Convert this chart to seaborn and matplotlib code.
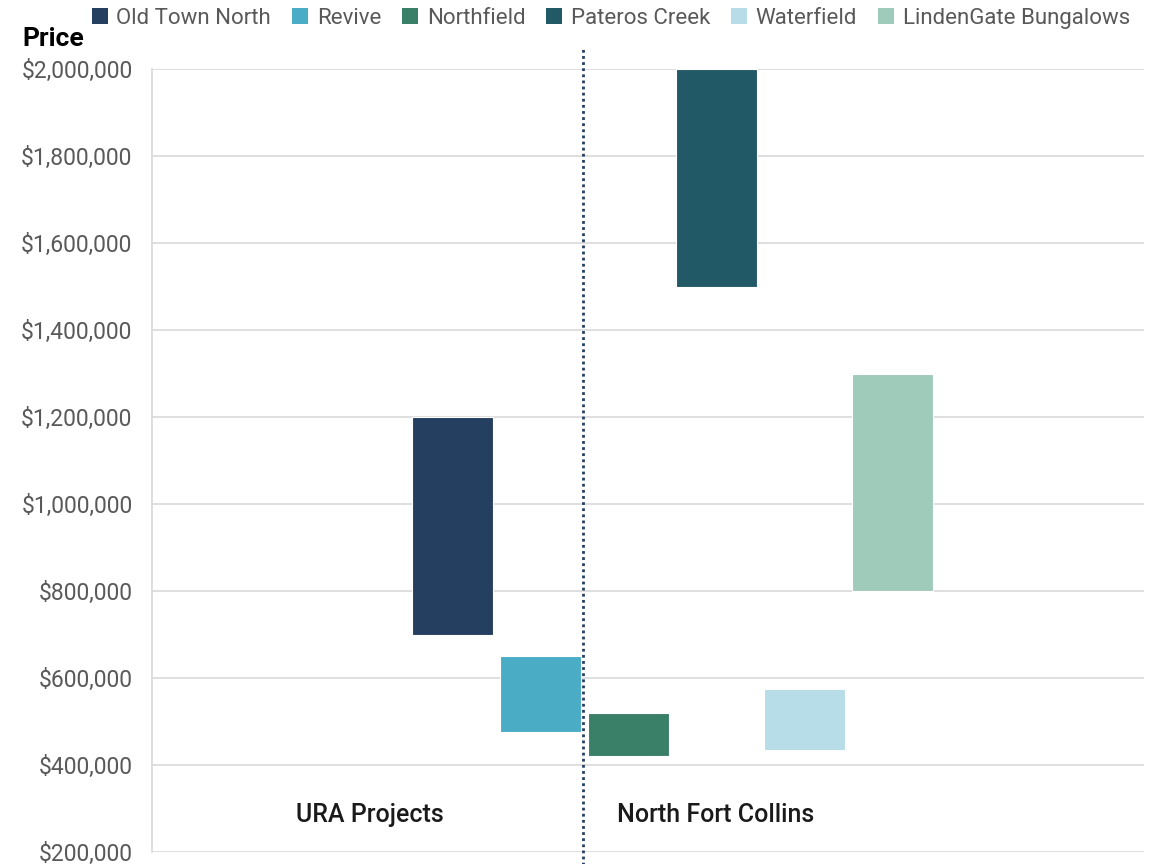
import matplotlib
matplotlib.use("Agg")
import matplotlib.pyplot as plt
import matplotlib.ticker as mticker
from matplotlib.patches import Patch
import seaborn as sns

projects = ["Old Town North", "Revive", "Northfield", "Pateros Creek",
            "Waterfield", "LindenGate Bungalows"]
price_low = [700000, 475000, 420000, 1500000, 435000, 800000]
price_high = [1200000, 650000, 520000, 2000000, 575000, 1300000]
colors = ["#243F60", "#4BACC6", "#3A8068", "#225966", "#B6DDE8", "#9FCBBA"]
groups = ["URA Projects", "North Fort Collins"]
group_pos = [-0.94, 2.99]

sns.set_theme(style="white")
plt.rcParams["font.family"] = ["Roboto", "DejaVu Sans"]

fig = plt.figure(figsize=(11.55, 8.64), dpi=100)
ax = fig.add_axes([0.1316, 0.0139, 0.8589, 0.9062])

x = list(range(len(projects)))
heights = [h - l for l, h in zip(price_low, price_high)]
ax.bar(x, heights, bottom=price_low, width=0.92, color=colors,
       edgecolor="white", linewidth=0.8, zorder=3)

ax.set_ylim(200000, 2000000)
ax.set_xlim(-3.415, 7.858)
ax.yaxis.set_major_locator(mticker.MultipleLocator(200000))
ax.yaxis.set_major_formatter(mticker.StrMethodFormatter("${x:,.0f}"))
ax.grid(axis="y", color="#D9D9D9", linewidth=1.2, zorder=0)
ax.set_xticks([])
ax.tick_params(axis="y", length=0, labelsize=16.5, labelcolor="#595959", pad=14)

for side in ["top", "right", "bottom"]:
    ax.spines[side].set_visible(False)
ax.spines["left"].set_color("#D9D9D9")
ax.spines["left"].set_linewidth(1.2)

# divider between the two groups
ax.axvline(1.48, ymin=-0.02, ymax=1.025, color="#243F60", linestyle=(0, (1, 1.2)),
           linewidth=2, clip_on=False, zorder=4)

for name, pos in zip(groups, group_pos):
    ax.text(pos, 285000, name, ha="center", va="center", fontsize=18,
            color="#1a1a1a", fontweight="medium")

fig.text(0.019, 0.955, "Price", fontsize=19, fontweight="bold", color="black",
         ha="left", va="center")

handles = [Patch(facecolor=c, edgecolor="none", label=p) for p, c in zip(projects, colors)]
fig.legend(handles=handles, loc="center", bbox_to_anchor=(0.529, 0.979), ncol=6,
           frameon=False, fontsize=16, labelcolor="#595959", handlelength=0.7,
           handleheight=0.7, handletextpad=0.4, columnspacing=0.95, borderaxespad=0)

fig.savefig("out.png", dpi=100)
